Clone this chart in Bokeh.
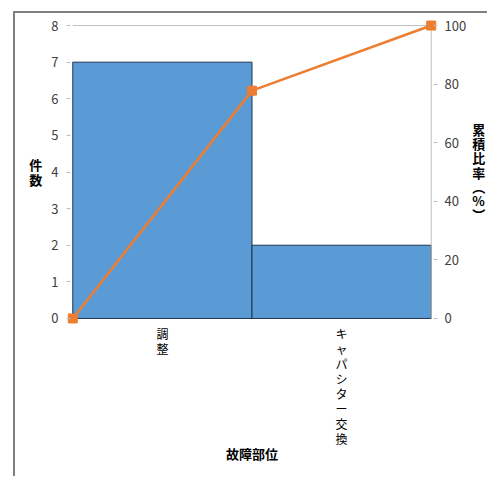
from bokeh.plotting import figure
from bokeh.models import Range1d, LinearAxis, FixedTicker
from bokeh.embed import file_html
from bokeh.resources import INLINE

# Failure locations and their counts (Pareto order)
categories = ["調整", "キャパシター交換"]
counts = [7, 2]
count_ticks = [0, 1, 2, 3, 4, 5, 6, 7, 8]
pct_ticks = [0, 20, 40, 60, 80, 100]

count_max = 8
pct_max = 100

# cumulative share, starting from zero at the left edge of the first bar
total = sum(counts)
running = [0]
for c in counts:
    running.append(running[-1] + c)
cum_pct = [pct_max * v / total for v in running]

n = len(categories)
bar_x = [i + 0.5 for i in range(n)]
edge_x = list(range(n + 1))

# a little padding around the ranges so the end markers are not clipped
pad_x = 0.035
pad_y = 0.165
pad_pct = pad_y * pct_max / count_max

JP = "Noto Sans CJK JP"

p = figure(width=474, height=465, output_backend="svg", toolbar_location=None,
           x_range=Range1d(-pad_x, n + pad_x),
           y_range=Range1d(-pad_y, count_max + pad_y),
           min_border_left=51, min_border_right=52,
           min_border_top=6, min_border_bottom=154,
           background_fill_color="white", border_fill_color="white")
p.extra_y_ranges = {"pct": Range1d(-pad_pct, pct_max + pad_pct)}
p.outline_line_color = None
p.grid.grid_line_color = None

# chart-area border along the top and left
p.margin = (11, 0, 0, 13)
p.styles = {"border-left": "2px solid #808080", "border-top": "2px solid #808080"}

# bars
p.vbar(x=bar_x, top=counts, width=1, bottom=0,
       fill_color="#5B9BD5", line_color="#1F3550", line_width=1)

# plot-area frame: top edge and right edge
p.segment(x0=[0, n], y0=[count_max, 0], x1=[n, n], y1=[count_max, count_max],
          line_color="#BFBFBF", line_width=1)

# cumulative line
p.line(edge_x, cum_pct, y_range_name="pct", line_color="#ED7D31", line_width=2.5)
p.scatter(edge_x, cum_pct, y_range_name="pct", marker="square", size=9,
          fill_color="#ED7D31", line_color="#ED7D31")

# left axis: counts
ya = p.yaxis[0]
ya.ticker = FixedTicker(ticks=count_ticks)
ya.axis_line_color = None
ya.major_tick_in = 4
ya.major_tick_out = 0
ya.major_tick_line_color = "#BFBFBF"
ya.minor_tick_line_color = None
ya.major_label_standoff = 8
ya.major_label_text_font = JP
ya.major_label_text_font_size = "13px"
ya.major_label_text_color = "#404040"
ya.axis_label = "件\n数"
ya.axis_label_orientation = "horizontal"
ya.axis_label_text_font = JP
ya.axis_label_text_font_style = "bold"
ya.axis_label_text_font_size = "13px"
ya.axis_label_text_color = "#000000"
ya.axis_label_text_line_height = 0.77
ya.axis_label_standoff = 6

# right axis: cumulative percentage
ra = LinearAxis(y_range_name="pct", ticker=FixedTicker(ticks=pct_ticks))
ra.axis_line_color = None
ra.major_tick_in = 4
ra.major_tick_out = 0
ra.major_tick_line_color = "#BFBFBF"
ra.minor_tick_line_color = None
ra.major_label_standoff = 7
ra.major_label_text_font = JP
ra.major_label_text_font_size = "13px"
ra.major_label_text_color = "#404040"
ra.axis_label = "累\n積\n比\n率\n︵\n%\n︶"
ra.axis_label_orientation = "horizontal"
ra.axis_label_text_font = JP
ra.axis_label_text_font_style = "bold"
ra.axis_label_text_font_size = "13px"
ra.axis_label_text_color = "#000000"
ra.axis_label_text_line_height = 0.75
ra.axis_label_standoff = 3
p.add_layout(ra, "right")

# bottom axis: failure location, written vertically
xa = p.xaxis[0]
xa.ticker = FixedTicker(ticks=bar_x)
xa.major_label_overrides = {x: "\n".join(c) for x, c in zip(bar_x, categories)}
xa.axis_line_color = None
xa.major_tick_line_color = None
xa.minor_tick_line_color = None
xa.major_label_standoff = -6
xa.major_label_text_font = JP
xa.major_label_text_font_size = "12px"
xa.major_label_text_color = "#000000"
xa.major_label_text_line_height = 0.89
xa.axis_label = "故障部位"
xa.axis_label_text_font = JP
xa.axis_label_text_font_style = "bold"
xa.axis_label_text_font_size = "13px"
xa.axis_label_text_color = "#000000"
xa.axis_label_standoff = -6

open("out.html", "w").write(file_html(p, INLINE))
